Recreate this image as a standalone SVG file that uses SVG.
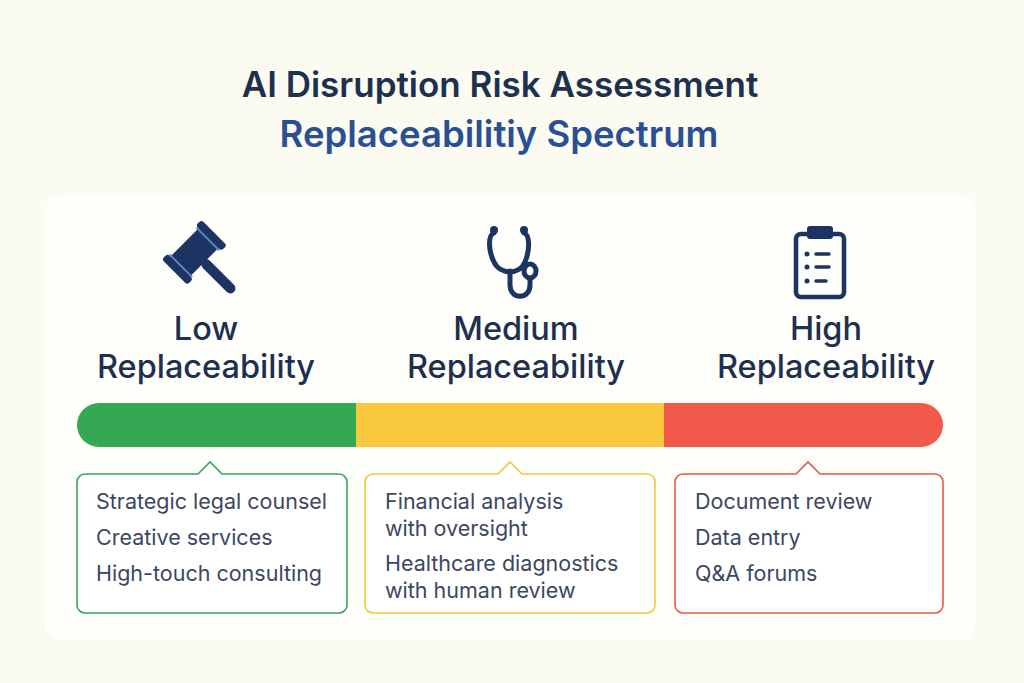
<svg xmlns="http://www.w3.org/2000/svg" width="1024" height="683" viewBox="0 0 1024 683">
<style>
.t{font-family:Inter,"Liberation Sans",sans-serif;text-anchor:middle}
.h{font-size:32.5px;font-weight:500;fill:#1f2f4f}
.i{font-size:21.5px;fill:#3b4763;font-family:Inter,"Liberation Sans",sans-serif}
.ic{fill:none;stroke:#1d3462;stroke-linecap:round;stroke-linejoin:round}
</style>
<rect width="1024" height="683" fill="#fcfbf1"/>
<rect x="45" y="195" width="930" height="445" rx="16" fill="#fefefb"/>
<text class="t" x="500" y="97" font-size="35" font-weight="600" fill="#1e3050">AI Disruption Risk Assessment</text>
<text class="t" x="499" y="147" font-size="36.5" font-weight="600" fill="#2a4f93">Replaceabilitiy Spectrum</text>
<g id="low">
<g transform="translate(200,258) rotate(-45)">
<rect x="-22" y="-22" width="44" height="28" rx="3" fill="#1d3462"/>
<rect x="-28" y="-26" width="8" height="36" rx="3" fill="#1d3462"/>
<rect x="20" y="-26" width="8" height="36" rx="3" fill="#1d3462"/>
<line x1="-19" y1="-24" x2="-19" y2="8" stroke="#5b82cc" stroke-width="2"/>
<line x1="19" y1="-24" x2="19" y2="8" stroke="#5b82cc" stroke-width="2"/>
<rect x="-5" y="4" width="10" height="44" rx="5" fill="#1d3462"/>
</g>
<text class="t h" x="206" y="340">Low</text>
<text class="t h" x="206" y="378">Replaceability</text>
</g>
<g id="medium">
<g class="ic" stroke-width="5">
<path d="M494,233 C488,235 488,250 494,262 C500,275 520,275 525,262 C530,250 530,235 524,233"/>
<path d="M510,271 L510,285 C510,300 530,300 530,285 L530,278"/>
<ellipse cx="530" cy="271" rx="6" ry="7"/>
</g>
<circle cx="494" cy="230" r="4" fill="#1d3462"/><circle cx="524" cy="230" r="4" fill="#1d3462"/>
<text class="t h" x="516" y="340">Medium</text>
<text class="t h" x="516" y="378">Replaceability</text>
</g>
<g id="high">
<rect x="796" y="234" width="48" height="63" rx="5" class="ic" stroke-width="4.5"/>
<rect x="807" y="226" width="26" height="13" rx="3" fill="#1d3462"/>
<g fill="#1d3462"><circle cx="807" cy="254" r="2.5"/><circle cx="807" cy="267" r="2.5"/><circle cx="807" cy="281" r="2.5"/></g>
<g class="ic" stroke-width="3.5"><line x1="816" y1="254" x2="829" y2="254"/><line x1="816" y1="267" x2="829" y2="267"/><line x1="816" y1="281" x2="826" y2="281"/></g>
<text class="t h" x="826" y="340">High</text>
<text class="t h" x="826" y="378">Replaceability</text>
</g>
<g id="bar">
<clipPath id="c"><rect x="77" y="403" width="866" height="44" rx="22"/></clipPath>
<g clip-path="url(#c)">
<rect x="77" y="403" width="280" height="44" fill="#34a853"/>
<rect x="356" y="403" width="309" height="44" fill="#fbc93d"/>
<rect x="664" y="403" width="280" height="44" fill="#f15a4a"/>
</g>
</g>
<g id="box-low">
<path d="M85,474 H198 L210,462 L222,474 H339 a8,8 0 0 1 8,8 V605 a8,8 0 0 1 -8,8 H85 a8,8 0 0 1 -8,-8 V482 a8,8 0 0 1 8,-8Z" fill="#fff" stroke="#3aa35a" stroke-width="1.6"/>
<text class="i" x="96" y="509">Strategic legal counsel</text>
<text class="i" x="96" y="545">Creative services</text>
<text class="i" x="96" y="581">High-touch consulting</text>
</g>
<g id="box-medium">
<path d="M373,474 H498 L510,462 L522,474 H647 a8,8 0 0 1 8,8 V605 a8,8 0 0 1 -8,8 H373 a8,8 0 0 1 -8,-8 V482 a8,8 0 0 1 8,-8Z" fill="#fff" stroke="#f3c53e" stroke-width="1.6"/>
<text class="i" x="385" y="509">Financial analysis</text>
<text class="i" x="385" y="536">with oversight</text>
<text class="i" x="385" y="571">Healthcare diagnostics</text>
<text class="i" x="385" y="598">with human review</text>
</g>
<g id="box-high">
<path d="M683,474 H796 L808,462 L820,474 H935 a8,8 0 0 1 8,8 V605 a8,8 0 0 1 -8,8 H683 a8,8 0 0 1 -8,-8 V482 a8,8 0 0 1 8,-8Z" fill="#fff" stroke="#e8574a" stroke-width="1.6"/>
<text class="i" x="695" y="509">Document review</text>
<text class="i" x="695" y="545">Data entry</text>
<text class="i" x="695" y="581">Q&amp;A forums</text>
</g>
</svg>
